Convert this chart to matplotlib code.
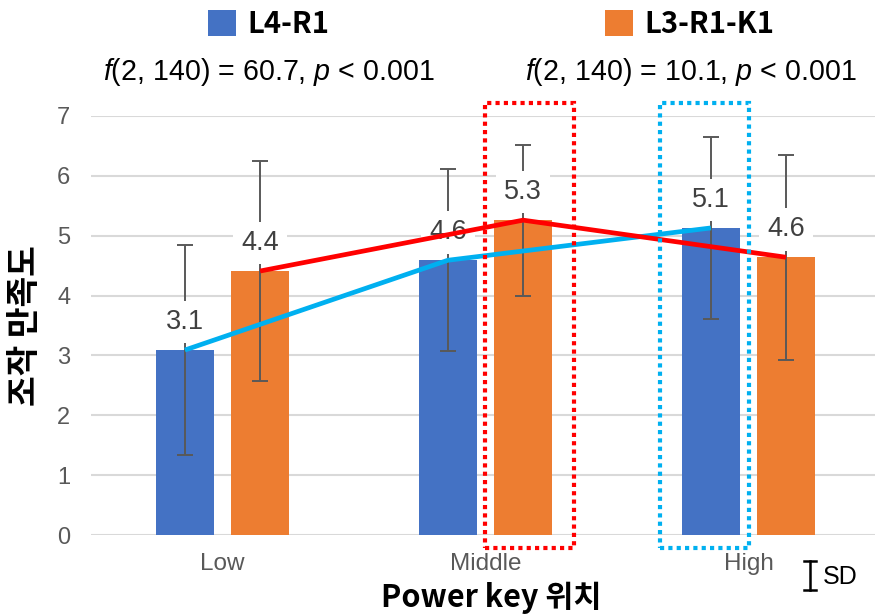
import numpy as np
import matplotlib
matplotlib.use("Agg")
import matplotlib.pyplot as plt
from matplotlib.lines import Line2D
from matplotlib.patches import Rectangle

plt.rcParams['font.family'] = ['Liberation Sans', 'Noto Sans CJK KR', 'DejaVu Sans']
plt.rcParams['mathtext.fontset'] = 'custom'
plt.rcParams['mathtext.rm'] = 'Liberation Sans'
plt.rcParams['mathtext.it'] = 'Liberation Sans:italic'

# Data
categories = ['Low', 'Middle', 'High']
series_names = ['L4-R1', 'L3-R1-K1']
l4_mean = [3.09, 4.59, 5.13]
l4_sd = [1.75, 1.52, 1.52]
l3_mean = [4.41, 5.26, 4.64]
l3_sd = [1.84, 1.26, 1.71]
stats_text = [r'$f$(2, 140) = 60.7, $p$ < 0.001', r'$f$(2, 140) = 10.1, $p$ < 0.001']

bar_colors = ['#4472C4', '#ED7D31']
line_colors = ['#00B0F0', '#FF0000']
grey = '#595959'

fig = plt.figure(figsize=(8.75, 6.16), dpi=100)
ax = fig.add_axes([91 / 875, 81 / 616, 789 / 875, 419 / 616])

x = np.arange(len(categories))
width = 0.22
offset = 0.143

means = [l4_mean, l3_mean]
sds = [l4_sd, l3_sd]
bars = []
for i, (m, s) in enumerate(zip(means, sds)):
    pos = x + (2 * i - 1) * offset
    b = ax.bar(pos, m, width, color=bar_colors[i], zorder=2, label=series_names[i])
    bars.append(b)
    ax.errorbar(pos, m, yerr=s, fmt='none', ecolor=grey, elinewidth=1.4,
                capsize=6, capthick=1.4, zorder=3)
    for xp, v in zip(pos, m):
        ax.annotate(f'{v:.1f}', (xp, v), xytext=(0, 20), textcoords='offset points',
                    ha='center', va='center', fontsize=19.5, color='#404040', zorder=4,
                    bbox=dict(boxstyle='square,pad=0.3', fc='white', ec='none'))
    ax.plot(pos, m, color=line_colors[i], lw=3.4, zorder=5 + i, solid_capstyle='butt')

# dotted highlight boxes (around Middle L3-R1-K1 and High L4-R1)
for xp, col, l_pad, r_pad in [(x[1] + offset, '#FF0000', 0.034, 0.083),
                              (x[2] - offset, '#00B0F0', 0.083, 0.034)]:
    rect = Rectangle((xp - width / 2 - l_pad, -0.22),
                     width + l_pad + r_pad, 7.44, fill=False, ec=col, lw=3,
                     ls=(0, (1, 1)), zorder=8, clip_on=False)
    ax.add_patch(rect)

ax.set_xlim(-0.5, 2.5)
ax.set_ylim(0, 7)
ax.set_yticks(range(0, 8))
ax.set_xticks(x)
ax.set_xticklabels(categories)
ax.tick_params(axis='y', length=0, pad=15, labelsize=17, labelcolor=grey)
ax.tick_params(axis='x', length=0, pad=13, labelsize=17.5, labelcolor=grey)
ax.grid(axis='y', color='#D9D9D9', lw=1.5, zorder=0)
ax.set_axisbelow(True)
for sp in ax.spines.values():
    sp.set_visible(False)

# legend at top
fig.legend(handles=bars, loc='center', bbox_to_anchor=(491 / 875, 1 - 24 / 616),
           ncol=2, frameon=False, handlelength=0.96, handleheight=0.95,
           handletextpad=0.38, columnspacing=9.45,
           prop={'family': ['Noto Sans CJK KR'], 'weight': 'bold', 'size': 21})

fig.text(103 / 875, 1 - 72 / 616, stats_text[0], ha='left', va='center', fontsize=20.6)
fig.text(525 / 875, 1 - 72 / 616, stats_text[1], ha='left', va='center', fontsize=20.6)

fig.text(25 / 875, 1 - 326 / 616, '조작 만족도', rotation=90, ha='center', va='center',
         fontsize=24, fontweight='bold', family=['Noto Sans CJK KR'])
fig.text(491 / 875, 1 - 598 / 616, 'Power key 위치', ha='center', va='center',
         fontsize=22, fontweight='bold', family=['Noto Sans CJK KR', 'Liberation Sans'])

# SD key
fx = 810 / 875
y0, y1 = 1 - 590 / 616, 1 - 561 / 616
cw = 6 / 875
for xs, ys in [([fx, fx], [y0, y1]), ([fx - cw, fx + cw], [y0, y0]), ([fx - cw, fx + cw], [y1, y1])]:
    fig.add_artist(Line2D(xs, ys, color='black', lw=1.8, transform=fig.transFigure))
fig.text(823 / 875, 1 - 577 / 616, 'SD', ha='left', va='center', fontsize=18)

fig.savefig('out.png', dpi=100, facecolor='white')
